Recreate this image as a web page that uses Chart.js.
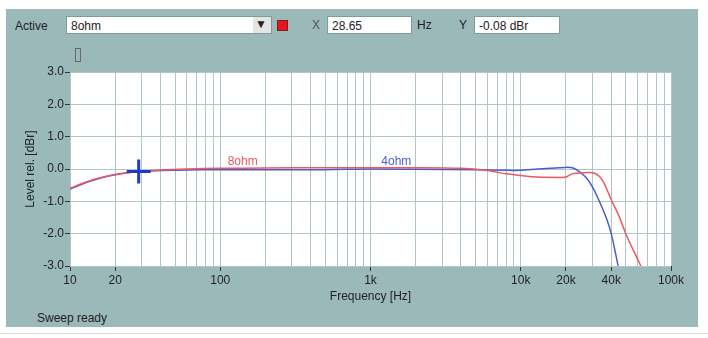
<!DOCTYPE html>
<html>
<head>
<meta charset="utf-8">
<script src="https://cdn.jsdelivr.net/npm/chart.js@4"></script>
<style>
    body { margin: 0; background: #fff; width: 708px; height: 338px; overflow: hidden; font-family: "Liberation Sans", Arial, sans-serif; font-size: 12px; color: #222; }
    #painel { position: absolute; left: 6px; top: 9px; width: 692px; height: 318px; background: #9bb9b9; }
    .txt { position: absolute; white-space: nowrap; }
    .caixa { position: absolute; background: #fff; border: 1px solid #7f9c9c; height: 18px; line-height: 18px; padding-left: 4px; box-sizing: border-box; }
    #grafico { position: absolute; left: 6px; top: 40px; width: 692px; height: 287px; }
    #linha { position: absolute; left: 0; top: 333px; width: 708px; height: 1px; background: #dcdcdc; }
</style>
</head>
<body>
<div id="painel"></div>
<div class="txt" style="left:15px; top:19px;">Active</div>
<div class="caixa" style="left:66px; top:16px; width:206px;">8ohm</div>
<div style="position:absolute; left:253px; top:17px; width:18px; height:16px; background:#e4e4e4;"></div>
<div class="txt" style="left:255px; top:17px; font-size:12px;">&#9660;</div>
<div style="position:absolute; left:277px; top:20px; width:11px; height:11px; background:#e8141c; border:1px solid #7a2020; box-sizing:border-box;"></div>
<div class="txt" style="left:312px; top:18px; color:#555;">X</div>
<div class="caixa" style="left:327px; top:16px; width:85px;">28.65</div>
<div class="txt" style="left:417px; top:18px;">Hz</div>
<div class="txt" style="left:459px; top:18px;">Y</div>
<div class="caixa" style="left:474px; top:16px; width:86px;">-0.08 dBr</div>
<div style="position:absolute; left:75px; top:48px; width:6px; height:14px; border:1px solid #667; box-sizing:border-box;"></div>
<div class="txt" style="left:37px; top:311px;">Sweep ready</div>
<div id="linha"></div>
<div id="grafico"><canvas id="cv" width="692" height="287"></canvas></div>
<script>
// frequencias (Hz) e niveis (dBr)
var freq8ohm = [10, 12, 15, 20, 28.65, 40, 60, 100, 200, 500, 1000, 2000, 4000, 6000, 8000, 10000, 13000, 18000, 20000, 22000, 25000, 31000, 35000, 40000, 45000, 50000, 56000, 63000];
var nivel8ohm = [-0.6, -0.45, -0.3, -0.17, -0.08, -0.03, 0.0, 0.02, 0.03, 0.04, 0.04, 0.04, 0.02, -0.05, -0.15, -0.2, -0.25, -0.26, -0.25, -0.15, -0.12, -0.13, -0.35, -0.95, -1.45, -2.0, -2.5, -3.0];

var freq4ohm = [10, 12, 15, 20, 28.65, 40, 60, 100, 200, 500, 1000, 2000, 5000, 8000, 10000, 13000, 17000, 20000, 22000, 24000, 27000, 30000, 33000, 37000, 40000, 44500];
var nivel4ohm = [-0.62, -0.47, -0.32, -0.18, -0.08, -0.05, -0.03, -0.02, -0.02, -0.02, 0.0, -0.01, -0.02, -0.04, -0.04, 0.0, 0.03, 0.05, 0.04, -0.05, -0.25, -0.55, -0.95, -1.5, -2.0, -3.0];

// linhas da grade (1..9 por decada)
var gradeFreq = [10, 20, 30, 40, 50, 60, 70, 80, 90, 100, 200, 300, 400, 500, 600, 700, 800, 900,
    1000, 2000, 3000, 4000, 5000, 6000, 7000, 8000, 9000, 10000, 20000, 30000, 40000, 50000, 60000, 70000, 80000, 90000, 100000];
var rotulosFreq = { 10: '10', 20: '20', 100: '100', 1000: '1k', 10000: '10k', 20000: '20k', 40000: '40k', 100000: '100k' };
var ticksNivel = [-3, -2, -1, 0, 1, 2, 3];

// textos dentro do grafico e cursor
var nomesSeries = ['8ohm', '4ohm'];
var posNomesFreq = [112, 1180];
var posNomesNivel = [0.22, 0.22];
var cursorFreq = 28.65;
var cursorNivel = -0.08;

var corVermelha = '#ea5a5e';
var corAzul = '#4c5bd0';
var corGrade = '#adc6c6';

Chart.defaults.font.family = '"Liberation Sans", Arial, sans-serif';
Chart.defaults.font.size = 12;
Chart.defaults.color = '#222';

const fundoBranco = {
    id: 'fundoBranco',
    beforeDraw(chart) {
        const a = chart.chartArea;
        chart.ctx.save();
        chart.ctx.fillStyle = '#fff';
        chart.ctx.fillRect(a.left, a.top, a.right - a.left, a.bottom - a.top);
        chart.ctx.restore();
    }
};

const extras = {
    id: 'extras',
    afterDatasetsDraw(chart) {
        const ctx = chart.ctx;
        const x = chart.scales.x, y = chart.scales.y;
        ctx.save();
        ctx.font = '12px "Liberation Sans", Arial, sans-serif';
        ctx.textBaseline = 'middle';
        ctx.textAlign = 'left';
        let cores = [corVermelha, corAzul];
        nomesSeries.forEach((n, i) => {
            ctx.fillStyle = cores[i];
            ctx.fillText(n, x.getPixelForValue(posNomesFreq[i]), y.getPixelForValue(posNomesNivel[i]));
        });
        // cursor em cruz
        let cx = x.getPixelForValue(cursorFreq);
        let cy = y.getPixelForValue(cursorNivel);
        ctx.strokeStyle = '#2438c8';
        ctx.lineWidth = 3;
        ctx.beginPath();
        ctx.moveTo(cx - 12, cy); ctx.lineTo(cx + 12, cy);
        ctx.moveTo(cx, cy - 12); ctx.lineTo(cx, cy + 12);
        ctx.stroke();
        ctx.restore();
    }
};

function montarPontos(f, v) {
    return f.map((fr, i) => ({ x: fr, y: v[i] }));
}

new Chart(document.getElementById('cv'), {
    type: 'line',
    data: {
        datasets: [
            {
                label: '8ohm',
                data: montarPontos(freq8ohm, nivel8ohm),
                borderColor: corVermelha,
                borderWidth: 1.5,
                pointRadius: 0,
                tension: 0.3
            },
            {
                label: '4ohm',
                data: montarPontos(freq4ohm, nivel4ohm),
                borderColor: corAzul,
                borderWidth: 1.5,
                pointRadius: 0,
                tension: 0.3
            }
        ]
    },
    options: {
        responsive: false,
        animation: false,
        events: [],
        layout: { padding: { top: 32, right: 27, left: 0, bottom: 10 } },
        plugins: {
            legend: { display: false },
            tooltip: { enabled: false }
        },
        scales: {
            x: {
                type: 'logarithmic',
                min: 10,
                max: 100000,
                afterBuildTicks: (s) => { s.ticks = gradeFreq.map(v => ({ value: v })); },
                afterFit: (s) => { s.height = 51; },
                ticks: {
                    autoSkip: false,
                    maxRotation: 0,
                    padding: 2,
                    color: '#222',
                    callback: (v) => rotulosFreq[v] || ''
                },
                grid: {
                    color: corGrade,
                    tickLength: 5,
                    tickColor: (c) => (c.tick && rotulosFreq[c.tick.value]) ? '#333' : 'rgba(0,0,0,0)'
                },
                border: { display: false },
                title: { display: true, text: 'Frequency [Hz]', color: '#222', padding: { top: 0, bottom: 13 } }
            },
            y: {
                min: -3,
                max: 3,
                afterBuildTicks: (s) => { s.ticks = ticksNivel.map(v => ({ value: v })); },
                afterFit: (s) => { s.width = 64; },
                ticks: {
                    padding: 1,
                    color: '#222',
                    callback: (v) => v.toFixed(1)
                },
                grid: { color: corGrade, tickLength: 5, tickColor: '#333' },
                border: { display: false },
                title: { display: true, text: 'Level rel. [dBr]', color: '#222', padding: { top: 17, bottom: 0 } }
            }
        }
    },
    plugins: [fundoBranco, extras]
});
</script>
</body>
</html>
